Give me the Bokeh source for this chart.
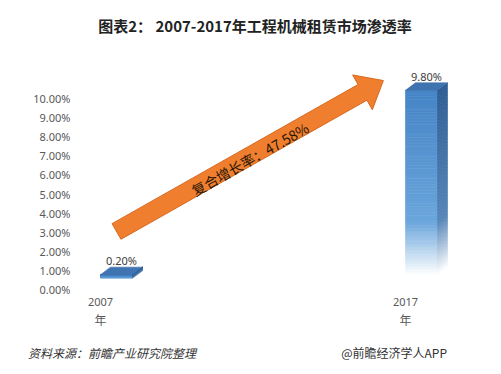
import math
from bokeh.plotting import figure
from bokeh.layouts import column
from bokeh.models import (Range1d, LinearAxis, FixedTicker, PrintfTickFormatter, Div)
from bokeh.core.properties import value
from bokeh.embed import file_html
from bokeh.resources import INLINE

# ---------------- data ----------------
years = ["2007", "2017"]
year_suffix = ["年", "年"]
rates = [0.20, 9.80]               # penetration rate, %
y_ticks = [0, 1, 2, 3, 4, 5, 6, 7, 8, 9, 10]
title_text = "图表2： 2007-2017年工程机械租赁市场渗透率"
cagr_text = "复合增长率：47.58%"
source_text = "资料来源：前瞻产业研究院整理"
brand_text = "@前瞻经济学人APP"

# ---------------- layout constants ----------------
W = 485
TITLE_H = 46
H = 294
BL, BR, BT, BB = 75, 0, 9, 48
FW = W - BL - BR
FH = H - BT - BB
PX_X = 305.0     # px per category step
PX_Y = 19.2      # px per percent (bars, 3-D floor)
PX_YA = 19.1     # px per percent (axis labels)
X0_PX = 41       # first bar centre from frame left
Y0_PX = 14       # bar floor above frame bottom
YA0_PX = 3       # axis zero above frame bottom
LAB_SHIFT = 16   # category labels sit left of bar centres

FONT = "Noto Sans CJK SC"
NUM_FONT = "Noto Sans"

title = Div(
    text=(f'<div style="box-sizing:border-box;width:{W}px;height:{TITLE_H}px;'
          f'padding-top:16px;padding-left:25px;text-align:center;line-height:20px;'
          f'font-family:\'{FONT}\';font-size:15px;font-weight:bold;color:#222222;">'
          f'{title_text}</div>'),
    width=W, height=TITLE_H, margin=(0, 0, 0, 0))

p = figure(width=W, height=H, output_backend="svg", toolbar_location=None,
           x_range=Range1d(-X0_PX / PX_X, (FW - X0_PX) / PX_X),
           y_range=Range1d(-Y0_PX / PX_Y, (FH - Y0_PX) / PX_Y),
           x_axis_location=None, y_axis_location=None,
           min_border_left=BL, min_border_right=BR,
           min_border_top=BT, min_border_bottom=BB)
p.extra_y_ranges = {"axis": Range1d(-YA0_PX / PX_YA, (FH - YA0_PX) / PX_YA)}
p.extra_x_ranges = {"lab": Range1d(-(X0_PX - LAB_SHIFT) / PX_X,
                                   (FW - X0_PX + LAB_SHIFT) / PX_X)}
p.grid.grid_line_color = None
p.outline_line_color = None
p.background_fill_color = "white"

# y axis
yaxis = LinearAxis(y_range_name="axis", ticker=FixedTicker(ticks=y_ticks),
                   formatter=PrintfTickFormatter(format="%.2f%%"),
                   axis_line_color=None, major_tick_line_color=None,
                   minor_tick_line_color=None, major_tick_in=0, major_tick_out=0,
                   major_label_text_font=NUM_FONT, major_label_text_font_size="11px",
                   major_label_text_color="#595959", major_label_standoff=5)
p.add_layout(yaxis, "left")

# x axes (year + 年 on second line)
idx = list(range(len(years)))
for labels, standoff, fs, fnt in ((years, 5, "11px", NUM_FONT), (year_suffix, 2, "12px", FONT)):
    ax = LinearAxis(x_range_name="lab", ticker=FixedTicker(ticks=idx),
                    major_label_overrides={i: labels[i] for i in idx},
                    axis_line_color=None, major_tick_line_color=None,
                    minor_tick_line_color=None, major_tick_in=0, major_tick_out=0,
                    major_label_text_font=fnt, major_label_text_font_size=fs,
                    major_label_text_color="#595959", major_label_standoff=standoff)
    p.add_layout(ax, "below")

# ---------------- 3-D bars ----------------
HW = 16 / PX_X
DX = 10 / PX_X
DY = 7.5 / PX_Y
N = 60


def hex2rgb(h):
    h = h.lstrip("#")
    return tuple(int(h[i:i + 2], 16) for i in (0, 2, 4))


def mix(c1, c2, t):
    a, b = hex2rgb(c1), hex2rgb(c2)
    return "#%02x%02x%02x" % tuple(round(a[i] + (b[i] - a[i]) * t) for i in range(3))


def shade(t, top, mid):
    # t: 0 at floor, 1 at top
    if t >= 0.3:
        return mix(mid, top, (t - 0.3) / 0.7)
    return mix("#ffffff", mid, max(0.0, (t - 0.02) / 0.28))


fq = dict(l=[], r=[], b=[], t=[], c=[])
sx, sy, sc = [], [], []
tx, ty = [], []
for i, v in enumerate(rates):
    xl, xr = i - HW, i + HW
    for k in range(N):
        y0, y1 = v * k / N, v * (k + 1) / N
        t = (k + 0.5) / N
        fq["l"].append(xl); fq["r"].append(xr)
        fq["b"].append(y0); fq["t"].append(y1)
        fq["c"].append(shade(t, "#4584c6", "#6ba6dc"))
        sx.append([xr, xr + DX, xr + DX, xr])
        sy.append([y0, y0 + DY, y1 + DY, y1])
        sc.append(shade(t, "#2d5d93", "#5585b8"))
    tx.append([xl, xr, xr + DX, xl + DX])
    ty.append([v, v, v + DY, v + DY])

p.quad(left=fq["l"], right=fq["r"], bottom=fq["b"], top=fq["t"],
       fill_color=fq["c"], line_color=fq["c"], line_width=0.6)
p.patches(xs=sx, ys=sy, fill_color=sc, line_color=sc, line_width=0.6)
p.patches(xs=tx, ys=ty, fill_color="#3f74b0", line_color="#3a6ca6", line_width=0.6)

# value labels
p.text(x=[i + DX / 2 for i in idx], y=[v + DY for v in rates],
       text=["%.2f%%" % v for v in rates], text_align="center",
       text_baseline="bottom", y_offset=1,
       text_font=value(NUM_FONT), text_font_size="11px", text_color="#404040")

# ---------------- CAGR arrow (polygon built in pixel space) ----------------
ARROW_START = (0.0, 2.45)
ARROW_END = (0.875, 10.31)
SHAFT_W, HEAD_W, HEAD_L = 18, 40, 24
ORANGE, ORANGE_EDGE = "#ef7f2f", "#d8691f"

ax0, ay0 = ARROW_START[0] * PX_X, ARROW_START[1] * PX_Y
ax1, ay1 = ARROW_END[0] * PX_X, ARROW_END[1] * PX_Y
L = math.hypot(ax1 - ax0, ay1 - ay0)
ux, uy = (ax1 - ax0) / L, (ay1 - ay0) / L
nx, ny = -uy, ux
bx, by = ax1 - ux * HEAD_L, ay1 - uy * HEAD_L
pts = [
    (ax0 + nx * SHAFT_W / 2, ay0 + ny * SHAFT_W / 2),
    (bx + nx * SHAFT_W / 2, by + ny * SHAFT_W / 2),
    (bx + nx * HEAD_W / 2, by + ny * HEAD_W / 2),
    (ax1, ay1),
    (bx - nx * HEAD_W / 2, by - ny * HEAD_W / 2),
    (bx - nx * SHAFT_W / 2, by - ny * SHAFT_W / 2),
    (ax0 - nx * SHAFT_W / 2, ay0 - ny * SHAFT_W / 2),
]
p.patch(x=[q[0] / PX_X for q in pts], y=[q[1] / PX_Y for q in pts],
        fill_color=ORANGE, line_color=ORANGE_EDGE, line_width=1)

ang = math.atan2(ay1 - ay0, ax1 - ax0)
p.text(x=[(ARROW_START[0] + ARROW_END[0]) / 2], y=[(ARROW_START[1] + ARROW_END[1]) / 2],
       text=[cagr_text], angle=ang, text_align="center", text_baseline="middle",
       y_offset=3, text_font=value(FONT), text_font_size="14px", text_color="#2a1606")

# ---------------- footer ----------------
footer = Div(
    text=(f'<div style="display:flex;justify-content:space-between;align-items:center;'
          f'width:452px;height:26px;padding-left:28px;padding-right:5px;'
          f'font-family:\'{FONT}\';font-size:12px;color:#333333;">'
          f'<span style="font-style:italic;">{source_text}</span>'
          f'<span>{brand_text}</span></div>'),
    width=W, height=26, margin=(0, 0, 0, 0))

layout = column(title, p, footer, spacing=0)
open("out.html", "w").write(file_html(layout, INLINE))
